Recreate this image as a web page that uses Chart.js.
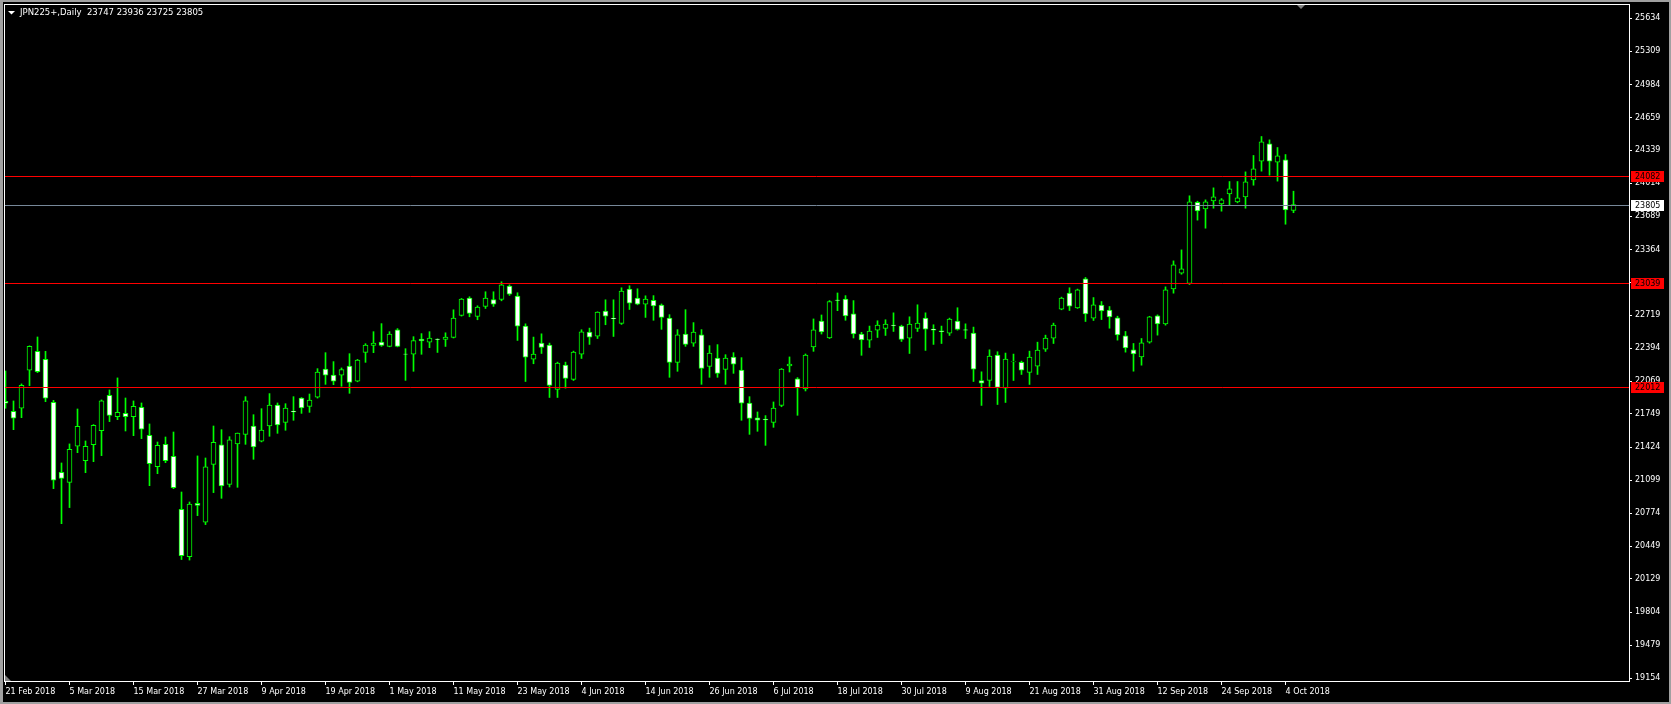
<!DOCTYPE html>
<html>
<head>
<meta charset="utf-8">
<title>JPN225+ Daily</title>
<script src="https://cdn.jsdelivr.net/npm/chart.js@4.4.1/dist/chart.umd.min.js"></script>
<style>
  html, body { margin: 0; padding: 0; background: #000; }
  #chart { display: block; }
</style>
</head>
<body>
<canvas id="chart" width="1671" height="704"></canvas>
<script>
// Daily bars, 21 Feb 2018 - 5 Oct 2018
const symbol = 'JPN225+';
const tradingDays = [
  ['Feb', [21, 22, 23, 26, 27, 28]],
  ['Mar', [1, 2, 5, 6, 7, 8, 9, 12, 13, 14, 15, 16, 19, 20, 21, 22, 23, 26, 27, 28, 29]],
  ['Apr', [2, 3, 4, 5, 6, 9, 10, 11, 12, 13, 16, 17, 18, 19, 20, 23, 24, 25, 26, 27, 30]],
  ['May', [1, 2, 3, 4, 7, 8, 9, 10, 11, 14, 15, 16, 17, 18, 21, 22, 23, 24, 25, 28, 29, 30, 31]],
  ['Jun', [1, 4, 5, 6, 7, 8, 11, 12, 13, 14, 15, 18, 19, 20, 21, 22, 25, 26, 27, 28, 29]],
  ['Jul', [2, 3, 4, 5, 6, 9, 10, 11, 12, 13, 16, 17, 18, 19, 20, 23, 24, 25, 26, 27, 30, 31]],
  ['Aug', [1, 2, 3, 6, 7, 8, 9, 10, 13, 14, 15, 16, 17, 20, 21, 22, 23, 24, 27, 28, 29, 30, 31]],
  ['Sep', [3, 4, 5, 6, 7, 10, 11, 12, 13, 14, 17, 18, 19, 20, 21, 24, 25, 26, 27, 28]],
  ['Oct', [1, 2, 3, 4, 5]]
];
const dates = tradingDays.flatMap(([m, days]) => days.map(d => d + ' ' + m + ' 2018'));

const opens = [
  21873, 21775, 21805, 22178, 22364, 22286, 21864, 21176, 21078, 21432,
  21291, 21448, 21585, 21932, 21723, 21756, 21723, 21815, 21540, 21232,
  21451, 21333, 20813, 20348, 20872, 20686, 21255, 21445, 21058, 21454,
  21549, 21631, 21481, 21631, 21837, 21667, 21775, 21906, 21824, 21913,
  22191, 22132, 22129, 22220, 22070, 22354, 22423, 22456, 22413, 22574,
  22338, 22335, 22485, 22453, 22484, 22481, 22500, 22716, 22886, 22706,
  22805, 22873, 22873, 23004, 22906, 22612, 22288, 22445, 22425, 21990,
  22229, 22088, 22337, 22553, 22513, 22759, 22687, 22638, 22975, 22886,
  22828, 22865, 22819, 22691, 22256, 22534, 22443, 22525, 22217, 22299,
  22187, 22308, 22181, 21857, 21710, 21700, 21667, 21834, 22220, 22093,
  21994, 22407, 22662, 22495, 22868, 22878, 22731, 22534, 22474, 22572,
  22589, 22621, 22612, 22494, 22589, 22690, 22582, 22566, 22543, 22661,
  22576, 22543, 22078, 22078, 22327, 22003, 22261, 22255, 22157, 22219,
  22386, 22494, 22778, 22936, 22790, 23076, 22689, 22817, 22768, 22693,
  22516, 22379, 22310, 22454, 22712, 22634, 22977, 23131, 23030, 23828,
  23763, 23841, 23812, 23910, 23832, 23881, 24048, 24231, 24401, 24221,
  24244, 23747
];
const highs = [
  22171, 21877, 22044, 22418, 22505, 22364, 21883, 21268, 21455, 21798,
  21484, 21645, 21887, 21985, 22103, 21906, 21877, 21857, 21651, 21474,
  21523, 21572, 20983, 20885, 21337, 21317, 21631, 21595, 21526, 21562,
  21919, 21742, 21801, 21949, 21857, 21850, 21919, 21910, 21945, 22194,
  22351, 22263, 22201, 22341, 22285, 22439, 22557, 22636, 22557, 22587,
  22390, 22508, 22538, 22557, 22487, 22546, 22772, 22883, 22900, 22811,
  22949, 22949, 23047, 23017, 22939, 22634, 22504, 22536, 22445, 22258,
  22258, 22366, 22576, 22592, 22752, 22870, 22870, 22988, 23008, 22978,
  22909, 22911, 22829, 22724, 22577, 22773, 22646, 22577, 22420, 22430,
  22331, 22351, 22302, 21919, 21769, 21733, 21867, 22195, 22309, 22106,
  22338, 22682, 22721, 22862, 22937, 22911, 22862, 22551, 22612, 22664,
  22674, 22742, 22621, 22703, 22821, 22742, 22625, 22612, 22690, 22792,
  22634, 22602, 22163, 22379, 22360, 22347, 22337, 22268, 22366, 22454,
  22523, 22641, 22896, 22988, 22975, 23089, 22892, 22853, 22804, 22709,
  22559, 22441, 22490, 22708, 22722, 22997, 23252, 23360, 23891, 23838,
  23851, 23969, 23864, 24031, 24031, 24126, 24287, 24473, 24440, 24365,
  24296, 23936
];
const lows = [
  21805, 21595, 21713, 22027, 22155, 21870, 21016, 20672, 20830, 21369,
  21173, 21281, 21340, 21674, 21693, 21582, 21536, 21507, 21045, 21163,
  21271, 21016, 20320, 20315, 20751, 20663, 20977, 20921, 21032, 21029,
  21451, 21304, 21475, 21530, 21559, 21589, 21687, 21755, 21765, 21905,
  22040, 22037, 22021, 21952, 22065, 22256, 22351, 22413, 22408, 22408,
  22079, 22168, 22335, 22400, 22353, 22412, 22495, 22710, 22703, 22674,
  22785, 22805, 22860, 22913, 22471, 22068, 22242, 22343, 21911, 21911,
  22003, 22078, 22294, 22432, 22490, 22625, 22510, 22628, 22775, 22821,
  22697, 22669, 22580, 22109, 22168, 22413, 22413, 22040, 22109, 22109,
  22040, 22148, 21687, 21549, 21579, 21441, 21618, 21820, 22161, 21736,
  21975, 22364, 22534, 22490, 22763, 22669, 22495, 22325, 22402, 22500,
  22520, 22559, 22461, 22343, 22559, 22373, 22432, 22441, 22520, 22572,
  22490, 22068, 21833, 22019, 21842, 21862, 22078, 22137, 22039, 22137,
  22363, 22441, 22772, 22765, 22785, 22657, 22667, 22676, 22591, 22474,
  22356, 22169, 22228, 22444, 22523, 22621, 22935, 23121, 23020, 23652,
  23573, 23769, 23740, 23802, 23822, 23769, 23995, 24133, 24093, 24035,
  23612, 23725
];
const closes = [
  21854, 21707, 22031, 22413, 22165, 21903, 21098, 21117, 21402, 21628,
  21432, 21638, 21877, 21736, 21765, 21723, 21824, 21599, 21261, 21441,
  21291, 21026, 20358, 20865, 20852, 21229, 21471, 21042, 21494, 21562,
  21877, 21425, 21592, 21837, 21641, 21808, 21769, 21808, 21886, 22161,
  22129, 22070, 22184, 22060, 22279, 22426, 22446, 22423, 22534, 22413,
  22335, 22469, 22466, 22495, 22480, 22504, 22690, 22877, 22736, 22798,
  22886, 22828, 23017, 22926, 22612, 22307, 22337, 22402, 22029, 22248,
  22098, 22356, 22556, 22504, 22749, 22710, 22684, 22955, 22837, 22828,
  22877, 22809, 22698, 22256, 22525, 22433, 22554, 22197, 22348, 22148,
  22299, 22237, 21854, 21706, 21687, 21690, 21808, 22191, 22240, 22004,
  22328, 22574, 22554, 22852, 22865, 22711, 22534, 22475, 22562, 22621,
  22631, 22618, 22481, 22631, 22641, 22582, 22572, 22556, 22680, 22579,
  22572, 22189, 22052, 22317, 22009, 22288, 22264, 22180, 22307, 22376,
  22494, 22621, 22886, 22808, 22968, 22732, 22820, 22761, 22703, 22526,
  22398, 22339, 22447, 22703, 22634, 22968, 23213, 23174, 23832, 23743,
  23832, 23881, 23851, 23959, 23871, 24028, 24156, 24421, 24231, 24283,
  23753, 23805
];

const xTickLabels = [
  '21 Feb 2018', '5 Mar 2018', '15 Mar 2018', '27 Mar 2018', '9 Apr 2018',
  '19 Apr 2018', '1 May 2018', '11 May 2018', '23 May 2018', '4 Jun 2018',
  '14 Jun 2018', '26 Jun 2018', '6 Jul 2018', '18 Jul 2018', '30 Jul 2018',
  '9 Aug 2018', '21 Aug 2018', '31 Aug 2018', '12 Sep 2018', '24 Sep 2018',
  '4 Oct 2018'
];
const yTickLabels = [
  25634, 25309, 24984, 24659, 24339, 24014, 23689, 23364, 23039, 22719,
  22394, 22069, 21749, 21424, 21099, 20774, 20449, 20129, 19804, 19479, 19154
];

// horizontal levels drawn on the chart
const levelLines = [24082, 23039, 22012];
const bidPrice = 23805;

const GREEN = '#00ff00';
const FONT = 'DejaVu Sans';

// MT4-like extras: background, levels, price boxes, frame, header
const mtOverlay = {
  id: 'mtOverlay',
  beforeDraw(chart) {
    const c = chart.ctx;
    c.save();
    c.fillStyle = '#000';
    c.fillRect(0, 0, chart.width, chart.height);
    c.restore();
  },
  afterDatasetsDraw(chart) {
    const c = chart.ctx;
    const a = chart.chartArea;
    const y = chart.scales.y;
    c.save();
    c.lineWidth = 1;
    levelLines.forEach(v => {
      const py = Math.round(y.getPixelForValue(v)) + 0.5;
      c.strokeStyle = '#ff0000';
      c.beginPath();
      c.moveTo(a.left, py);
      c.lineTo(a.right, py);
      c.stroke();
    });
    const by = Math.round(y.getPixelForValue(bidPrice)) + 0.5;
    c.strokeStyle = '#778899';
    c.beginPath();
    c.moveTo(a.left, by);
    c.lineTo(a.right, by);
    c.stroke();
    c.restore();
  },
  afterDraw(chart) {
    const c = chart.ctx;
    const a = chart.chartArea;
    const y = chart.scales.y;
    c.save();

    // window edge
    c.fillStyle = '#a0a0a0';
    c.fillRect(0, 0, chart.width, 2);
    c.fillRect(0, 0, 3, chart.height);
    c.fillRect(0, chart.height - 2, chart.width, 2);
    c.fillRect(chart.width - 2, 0, 2, chart.height);

    // plot frame
    c.strokeStyle = '#ffffff';
    c.lineWidth = 1;
    c.strokeRect(a.left + 0.5, a.top + 0.5, a.right - a.left, a.bottom - a.top);

    // price boxes on the right axis
    c.font = '8px "' + FONT + '"';
    c.textBaseline = 'middle';
    c.textAlign = 'left';
    const box = (v, bg, fg) => {
      const py = Math.round(y.getPixelForValue(v));
      c.fillStyle = bg;
      c.fillRect(a.right + 2, py - 5, 33, 11);
      c.fillStyle = fg;
      c.fillText(String(v), a.right + 6, py + 0.5);
    };
    levelLines.forEach(v => box(v, '#ff0000', '#000000'));
    box(bidPrice, '#ffffff', '#000000');

    // header
    const last = dates.length - 1;
    c.fillStyle = '#ffffff';
    c.beginPath();
    c.moveTo(8, 11);
    c.lineTo(15, 11);
    c.lineTo(11.5, 14.5);
    c.closePath();
    c.fill();
    c.font = '8.5px "' + FONT + '"';
    c.fillText(symbol + ',Daily  ' + [opens[last], highs[last], lows[last], closes[last]].join(' '), 20, 13);

    // chart shift marker and scroll corner
    c.fillStyle = '#808080';
    c.beginPath();
    c.moveTo(1297, a.top + 1);
    c.lineTo(1305, a.top + 1);
    c.lineTo(1301, a.top + 5);
    c.closePath();
    c.fill();
    c.beginPath();
    c.moveTo(a.left + 1, a.bottom - 6);
    c.lineTo(a.left + 1, a.bottom);
    c.lineTo(a.left + 7, a.bottom);
    c.closePath();
    c.fill();

    c.restore();
  }
};

const bodyData = dates.map((d, i) => ({ x: i, y: [opens[i], closes[i]] }));
const wickData = dates.map((d, i) => ({ x: i, y: [lows[i], highs[i]] }));

const ctx = document.getElementById('chart').getContext('2d');
new Chart(ctx, {
  type: 'bar',
  data: {
    datasets: [
      {
        label: 'body',
        data: bodyData,
        order: 0,
        grouped: false,
        barThickness: 5,
        backgroundColor: dates.map((d, i) => closes[i] >= opens[i] ? '#000000' : '#ffffff'),
        borderColor: GREEN,
        borderWidth: 1,
        borderSkipped: false
      },
      {
        label: 'wick',
        data: wickData,
        order: 1,
        grouped: false,
        barThickness: 1,
        backgroundColor: GREEN,
        borderWidth: 0
      }
    ]
  },
  options: {
    responsive: false,
    animation: false,
    layout: { padding: { left: 4, top: 4, right: 0, bottom: 0 } },
    plugins: {
      legend: { display: false },
      tooltip: { enabled: false }
    },
    scales: {
      x: {
        type: 'linear',
        offset: false,
        min: -0.1875,
        max: 202.9375,
        afterBuildTicks: s => { s.ticks = xTickLabels.map(l => ({ value: dates.indexOf(l) })); },
        afterFit: s => { s.height = 23; s.paddingLeft = 0; s.paddingRight = 0; },
        grid: { offset: false, drawOnChartArea: false, drawTicks: true, tickLength: 4, color: '#ffffff' },
        border: { display: false },
        ticks: {
          align: 'start',
          autoSkip: false,
          maxRotation: 0,
          minRotation: 0,
          padding: 2,
          color: '#ffffff',
          font: { family: FONT, size: 8 },
          callback: v => dates[v]
        }
      },
      y: {
        position: 'right',
        min: 19127.5,
        max: 25774,
        afterBuildTicks: s => { s.ticks = yTickLabels.map(v => ({ value: v })); },
        afterFit: s => { s.width = 42; s.paddingTop = 0; s.paddingBottom = 0; },
        grid: { drawOnChartArea: false, drawTicks: true, tickLength: 3, color: '#ffffff' },
        border: { display: false },
        ticks: {
          autoSkip: false,
          padding: 3,
          color: '#ffffff',
          font: { family: FONT, size: 8 },
          callback: v => String(v)
        }
      }
    }
  },
  plugins: [mtOverlay]
});
</script>
</body>
</html>
